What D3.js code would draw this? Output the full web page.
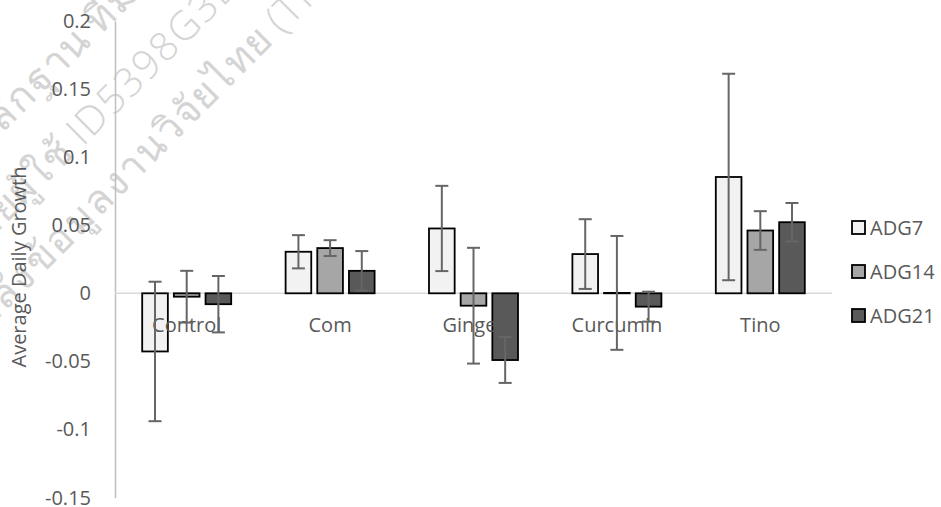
<!DOCTYPE html>
<html>
<head>
<meta charset="utf-8">
<script src="https://cdn.jsdelivr.net/npm/d3@7"></script>
<style>
  html, body { margin: 0; padding: 0; background: #fff; }
  svg { display: block; }
  text { font-family: "Open Sans", "Noto Sans", sans-serif; }
</style>
</head>
<body>
<svg id="chart" width="941" height="507"></svg>
<script>
// ---- data ----
const categories = ["Control", "Com", "Ginger", "Curcumin", "Tino"];
const seriesNames = ["ADG7", "ADG14", "ADG21"];
const adg7  = [-0.0427, 0.0305, 0.0476, 0.0288, 0.0854];
const adg14 = [-0.0025, 0.0332, -0.0091, 0.0003, 0.0461];
const adg21 = [-0.0080, 0.0165, -0.0490, -0.0098, 0.0522];
const err7  = [0.0512, 0.0122, 0.0313, 0.0256, 0.0758];
const err14 = [0.0190, 0.0058, 0.0425, 0.0418, 0.0142];
const err21 = [0.0207, 0.0145, 0.0168, 0.0110, 0.0141];
const yTicks = [-0.15, -0.1, -0.05, 0, 0.05, 0.1, 0.15, 0.2];
const seriesColors = ["#f2f2f2", "#a6a6a6", "#595959"];
// watermark text, each line split in two parts around an anchor point
const watermarkBefore = ["เอกสารนี้มีไว้ให้หลักฐาน", "ดาวน์โหลดโดยผู้ใช้", "จากคลังข้อมูลงานวิจัยไทย"];
const watermarkAfter  = ["ที่มาของข้อมูล", "ID5398G3E", "(TNRR)"];

const values = [adg7, adg14, adg21];
const errors = [err7, err14, err21];

const svg = d3.select("#chart");

// ---- watermark ----
const wm = svg.append("g");
const wmPts = [[100, 36], [83, 147], [282, 35]];
const wmFont = 40;
watermarkBefore.forEach((t, i) => {
  const [px, py] = wmPts[i];
  const gap = 6;
  wm.append("text")
    .attr("transform", `translate(${px - gap},${py + gap}) rotate(-45)`)
    .attr("text-anchor", "end")
    .attr("font-size", wmFont).attr("font-weight", 300)
    .attr("letter-spacing", 2)
    .attr("fill", "#d4d4d4")
    .text(t);
  wm.append("text")
    .attr("transform", `translate(${px},${py}) rotate(-45)`)
    .attr("text-anchor", "start")
    .attr("font-size", wmFont).attr("font-weight", 300)
    .attr("letter-spacing", 2)
    .attr("fill", "#d4d4d4")
    .text(watermarkAfter[i]);
});

// ---- scales ----
const y = d3.scaleLinear().domain([-0.15, 0.2]).range([497.6, 20.9]);
const x0 = d3.scaleBand().domain(categories).range([115, 832]).padding(0);
const groupW = 89;
const off = (x0.bandwidth() - groupW) / 2;
const x1 = d3.scaleBand().domain(seriesNames).range([off, off + groupW]).paddingInner(0.19);
const color = d3.scaleOrdinal().domain(seriesNames).range(seriesColors);

// ---- y axis ----
const yAxis = d3.axisLeft(y).tickValues(yTicks).tickSize(0).tickPadding(24)
  .tickFormat(d => d === 0 ? "0" : String(+d.toFixed(2)));
const ya = svg.append("g").attr("transform", "translate(115,0)").call(yAxis);
ya.select(".domain").attr("stroke", "#bfbfbf").attr("stroke-width", 1.5);
ya.selectAll("text").attr("font-size", 20).attr("fill", "#595959")
  .attr("font-family", "'Open Sans', sans-serif");

// zero line
svg.append("line")
  .attr("x1", 115).attr("x2", 832)
  .attr("y1", y(0)).attr("y2", y(0))
  .attr("stroke", "#d9d9d9").attr("stroke-width", 1.5);

// ---- bars ----
const rows = [];
categories.forEach((c, ci) => {
  seriesNames.forEach((s, si) => {
    rows.push({ cat: c, series: s, v: values[si][ci], e: errors[si][ci] });
  });
});

const g = svg.append("g");
g.selectAll("rect.bar").data(rows).enter().append("rect")
  .attr("class", "bar")
  .attr("x", d => x0(d.cat) + x1(d.series))
  .attr("width", x1.bandwidth())
  .attr("y", d => Math.min(y(d.v), y(0)))
  .attr("height", d => Math.abs(y(d.v) - y(0)))
  .attr("fill", d => color(d.series))
  .attr("stroke", "#000")
  .attr("stroke-width", 1.8);

// ---- category labels ----
svg.append("g").selectAll("text").data(categories).enter().append("text")
  .attr("x", d => x0(d) + x0.bandwidth() / 2)
  .attr("y", y(0) + 39)
  .attr("text-anchor", "middle")
  .attr("font-size", 20)
  .attr("fill", "#595959")
  .text(d => d);

// ---- error bars ----
const eb = svg.append("g").attr("stroke", "#666").attr("stroke-width", 2);
rows.forEach(d => {
  const cx = x0(d.cat) + x1(d.series) + x1.bandwidth() / 2;
  const yt = y(d.v + d.e), yb = y(d.v - d.e);
  eb.append("line").attr("x1", cx).attr("x2", cx).attr("y1", yt).attr("y2", yb);
  eb.append("line").attr("x1", cx - 6.5).attr("x2", cx + 6.5).attr("y1", yt).attr("y2", yt);
  eb.append("line").attr("x1", cx - 6.5).attr("x2", cx + 6.5).attr("y1", yb).attr("y2", yb);
});

// ---- y title ----
svg.append("text")
  .attr("transform", "translate(26,267) rotate(-90)")
  .attr("text-anchor", "middle")
  .attr("font-size", 20)
  .attr("fill", "#595959")
  .text("Average Daily Growth");

// ---- legend ----
const lg = svg.append("g").attr("transform", "translate(852,221)");
seriesNames.forEach((s, i) => {
  const row = lg.append("g").attr("transform", `translate(0,${i * 44})`);
  row.append("rect").attr("width", 13).attr("height", 13)
    .attr("fill", color(s)).attr("stroke", "#000").attr("stroke-width", 1.8);
  row.append("text").attr("x", 18).attr("y", 14)
    .attr("font-size", 20).attr("fill", "#595959").text(s);
});
</script>
</body>
</html>
